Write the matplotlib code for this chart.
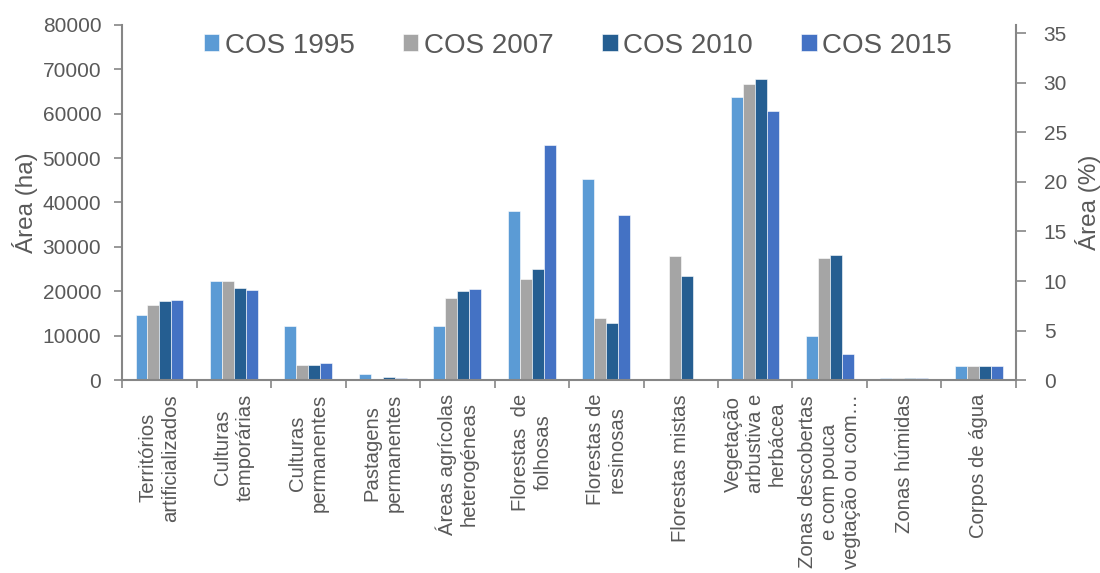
import numpy as np
import matplotlib.pyplot as plt

plt.rcParams['font.family'] = ['Liberation Sans', 'DejaVu Sans']

categorias = [
    "Territórios\nartificializados",
    "Culturas\ntemporárias",
    "Culturas\npermanentes",
    "Pastagens\npermanentes",
    "Áreas agrícolas\nheterogéneas",
    "Florestas  de\nfolhosas",
    "Florestas de\nresinosas",
    "Florestas mistas",
    "Vegetação\narbustiva e\nherbácea",
    "Zonas descobertas\ne com pouca\nvegtação ou com…",
    "Zonas húmidas",
    "Corpos de água",
]

cos_1995 = [14600, 22400, 12100, 1350, 12100, 38150, 45350, 0, 63700, 9850, 400, 3100]
cos_2007 = [16800, 22250, 3400, 150, 18500, 22700, 13900, 28000, 66600, 27600, 350, 3100]
cos_2010 = [17750, 20750, 3400, 600, 20100, 25000, 12850, 23400, 67900, 28150, 450, 3100]
cos_2015 = [18050, 20250, 3850, 400, 20450, 53050, 37150, 0, 60550, 5800, 450, 3100]

series = [cos_1995, cos_2007, cos_2010, cos_2015]
nomes = ["COS 1995", "COS 2007", "COS 2010", "COS 2015"]
cores = ["#5B9BD5", "#A5A5A5", "#255E91", "#4472C4"]

cinza = "#595959"
eixo = "#868686"

fig = plt.figure(figsize=(11, 5.73), dpi=100)
ax = fig.add_axes([0.111, 0.3368, 0.8126, 0.6196])

x = np.arange(len(categorias))
w = 0.16
for i, (vals, nome, cor) in enumerate(zip(series, nomes, cores)):
    ax.bar(x + (i - 1.5) * w, vals, w, color=cor, label=nome,
           edgecolor="white", linewidth=0.4)

ax.set_xlim(-0.5, len(categorias) - 0.5)
ax.set_ylim(0, 80000)
ax.set_yticks(np.arange(0, 80001, 10000))
ax.set_ylabel("Área (ha)", fontsize=17.5, color=cinza, labelpad=3)

# category labels in the middle, tick marks on the boundaries
ax.set_xticks(x)
ax.set_xticklabels(categorias, rotation=90, fontsize=14.6, color=cinza,
                   va="top", ha="center", multialignment="center")
ax.set_xticks(np.arange(-0.5, len(categorias)), minor=True)
ax.tick_params(axis="x", which="major", length=0, pad=10)
ax.tick_params(axis="x", which="minor", length=6, color=eixo, width=1.2)
ax.tick_params(axis="y", length=6, color=eixo, width=1.2, labelsize=15,
               labelcolor=cinza, pad=9)

for s in ["top", "right"]:
    ax.spines[s].set_visible(False)
for s in ["left", "bottom"]:
    ax.spines[s].set_color(eixo)
    ax.spines[s].set_linewidth(1.5)

# percentage of the total area on the right axis
total = sum(cos_1995)
ax2 = ax.twinx()
ax2.set_ylim(0, 80000 / total * 100)
ax2.set_yticks(np.arange(0, 36, 5))
ax2.set_ylabel("Área (%)", fontsize=17.5, color=cinza, labelpad=6)
ax2.tick_params(axis="y", length=7, color=eixo, width=1.2, labelsize=15,
                labelcolor=cinza, pad=13)
for s in ["top", "left", "bottom"]:
    ax2.spines[s].set_visible(False)
ax2.spines["right"].set_color(eixo)
ax2.spines["right"].set_linewidth(1.5)

ax.legend(loc="upper center", bbox_to_anchor=(0.51, 1.01), ncol=4,
          frameon=False, fontsize=20, handlelength=0.55, handleheight=0.55,
          handletextpad=0.2, columnspacing=1.75, labelcolor=cinza,
          borderaxespad=0.0)

fig.savefig("out.png", dpi=100)
